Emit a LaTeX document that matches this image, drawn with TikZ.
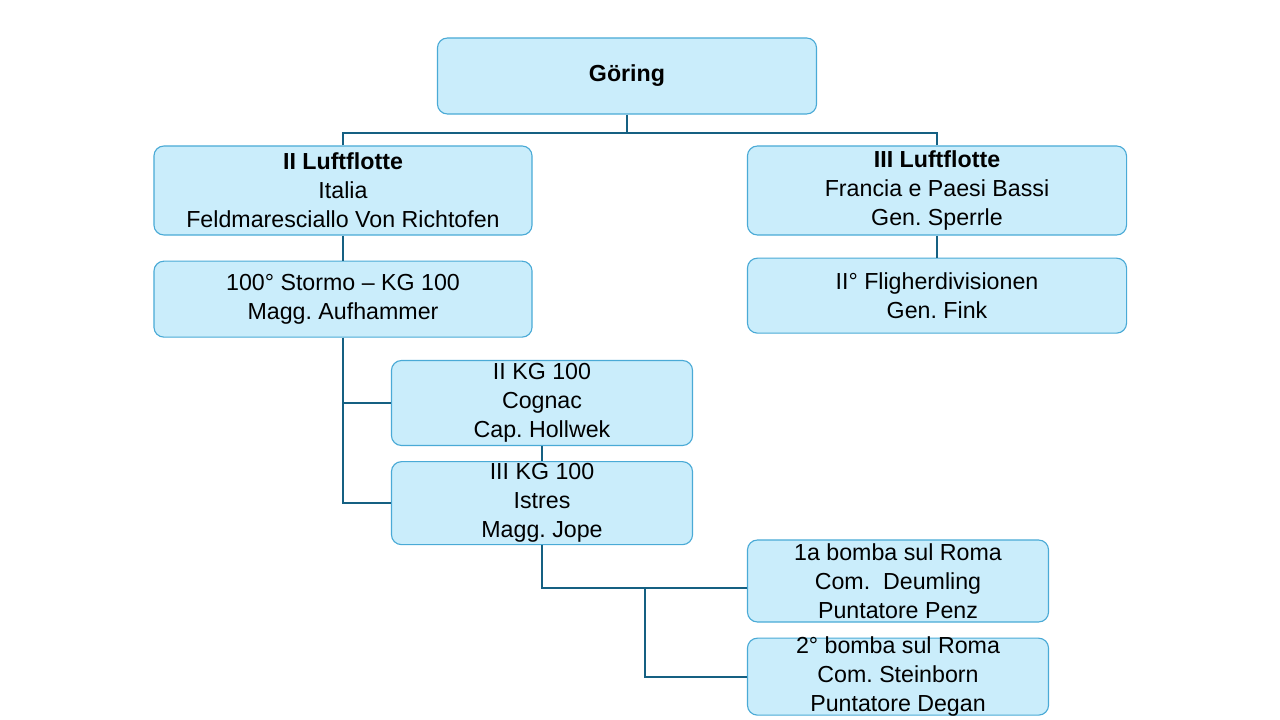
\documentclass[tikz,border=0pt]{standalone}
\usepackage{fontspec}
\setmainfont{Liberation Sans}
\usepackage{tikz}
\usetikzlibrary{positioning}
\definecolor{boxfill}{HTML}{CAEDFB}
\definecolor{boxline}{HTML}{4AAAD6}
\definecolor{linkcol}{HTML}{156082}
\frenchspacing

\begin{document}
\begin{tikzpicture}[x=0.025cm,y=-0.025cm,
every node/.style={font=\fontsize{16.5}{20.6}\selectfont,align=center,inner xsep=0pt,inner ysep=-3pt},
box/.style={draw=boxline,line width=0.8pt,rounded corners=0.25cm,fill=boxfill,minimum width=9.45cm,minimum height=1.9cm},
sub/.style={box,minimum width=7.525cm},
link/.style={draw=linkcol,line width=1.4pt}
]
\useasboundingbox (0,0) rectangle (1280,720);
\node[box,minimum width=9.475cm] (goering) at (627,76) {\textbf{Göring}};
\node[box,minimum height=2.225cm] (lf2) at (343,190.5) {\textbf{II Luftflotte}\\Italia\\Feldmaresciallo Von Richtofen};
\node[box,minimum width=9.475cm,minimum height=2.225cm] (lf3) at (937,190.5) {\textbf{III Luftflotte}\\Francia e Paesi Bassi\\Gen. Sperrle};
\node[box,below=0.625cm of lf2] (kg100) {100° Stormo – KG 100\\Magg. Aufhammer};
\node[box,minimum width=9.475cm,minimum height=1.875cm,below=0.55cm of lf3] (fd2) {II° Fligherdivisionen\\Gen. Fink};
\node[sub,minimum height=2.125cm] (kg2) at (542,403) {II KG 100\\Cognac\\Cap. Hollwek};
\node[sub,minimum height=2.075cm,below=0.375cm of kg2] (kg3) {III KG 100\\Istres\\Magg. Jope};
\node[sub,minimum height=2.05cm] (b1) at (898,581) {1a bomba sul Roma\\Com.\ \ Deumling\\Puntatore Penz};
\node[sub,minimum height=1.925cm,below=0.375cm of b1] (b2) {2° bomba sul Roma\\Com. Steinborn\\Puntatore Degan};
% connectors
\coordinate (bus) at (627,133);
\coordinate (fork) at (645,588);
\draw[link] (goering.south) -- (bus);
\draw[link] (lf2.north) |- (bus) -| (lf3.north);
\draw[link] (lf2) -- (kg100);
\draw[link] (lf3) -- (fd2);
\draw[link] (kg100.south) |- (kg2.west);
\draw[link] (kg100.south) |- (kg3.west);
\draw[link] (kg2) -- (kg3);
\draw[link] (kg3.south) |- ([yshift=-0.175cm]b1.west);
\draw[link] (fork) |- (b2.west);
\end{tikzpicture}
\end{document}
